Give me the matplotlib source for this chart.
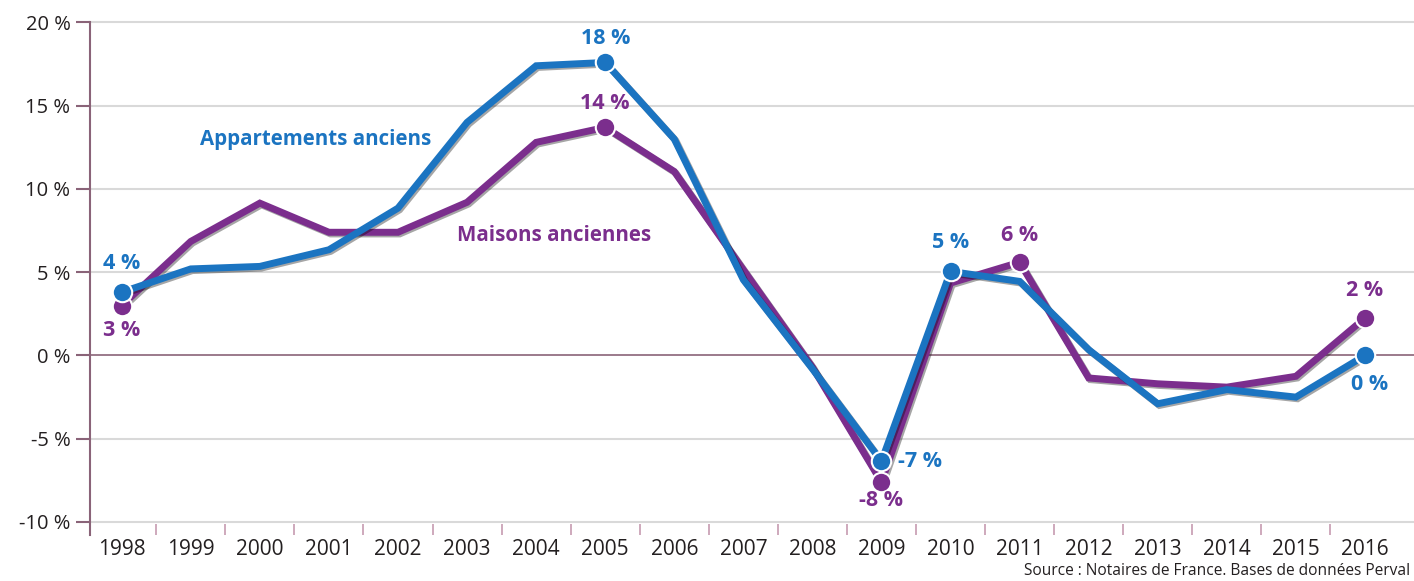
import matplotlib
matplotlib.use("Agg")
import matplotlib.pyplot as plt
from matplotlib import patheffects as pe

# Évolution annuelle des prix des logements anciens (France)
years = list(range(1998, 2017))
appartements = [3.8, 5.2, 5.35, 6.35, 8.85, 14.0, 17.4, 17.6, 13.0, 4.55,
                -0.8, -6.35, 5.05, 4.45, 0.35, -2.9, -2.05, -2.5, 0.0]
maisons = [3.0, 6.85, 9.15, 7.4, 7.4, 9.2, 12.8, 13.7, 11.05, 5.15,
           -0.7, -7.6, 4.35, 5.6, -1.35, -1.7, -1.9, -1.25, 2.25]

yticks = [-10, -5, 0, 5, 10, 15, 20]
ytick_labels = [f"{v} %" for v in yticks]

# étiquettes des points remarquables : année -> (texte, décalage en points)
labels_appart = {1998: ("4 %", (0, 21)), 2005: ("18 %", (0, 17)),
                 2009: ("-7 %", (28, 0)), 2010: ("5 %", (0, 21)),
                 2016: ("0 %", (3, -21))}
labels_maisons = {1998: ("3 %", (0, -18)), 2005: ("14 %", (0, 17)),
                  2009: ("-8 %", (0, -13)), 2011: ("6 %", (0, 19)),
                  2016: ("2 %", (0, 20))}

BLUE = "#1b74c1"
PURPLE = "#7b2e8d"
AXIS = "#8a6378"
GRID = "#d9d9d9"
TXT = "#231f20"

plt.rcParams['font.family'] = ['Open Sans', 'DejaVu Sans']

fig = plt.figure(figsize=(14.14, 5.81), dpi=100)
ax = fig.add_axes([0.0636, 0.0792, 0.9364, 0.8821])

# ---- grille ----
for v in yticks:
    if v == 0:
        ax.axhline(v, color=AXIS, lw=1.2, zorder=1)
    else:
        ax.axhline(v, color=GRID, lw=1.5, zorder=0, clip_on=False)

shadow = [pe.SimpleLineShadow(offset=(1.2, -1.2), shadow_color="black", alpha=0.35),
          pe.Normal()]

ax.plot(years, maisons, color=PURPLE, lw=5, solid_joinstyle="miter",
        path_effects=shadow, zorder=3)
ax.plot(years, appartements, color=BLUE, lw=5, solid_joinstyle="miter",
        path_effects=shadow, zorder=4)


def mark(series, labels, color, z):
    xs = [y for y in labels]
    ys = [series[years.index(y)] for y in labels]
    ax.plot(xs, ys, "o", color=color, ms=14, mec="white", mew=1.5, zorder=z)
    for y, (txt, off) in labels.items():
        ax.annotate(txt, (y, series[years.index(y)]), xytext=off,
                    textcoords="offset points", ha="center", va="center",
                    color=color, fontsize=15.5, fontweight="bold", zorder=6)


mark(maisons, labels_maisons, PURPLE, 5)
mark(appartements, labels_appart, BLUE, 5)

ax.text(1999.13, 13.0, "Appartements anciens", color=BLUE, fontsize=14.8,
        fontweight="bold", ha="left", va="center")
ax.text(2002.85, 7.18, "Maisons anciennes", color=PURPLE, fontsize=14.8,
        fontweight="bold", ha="left", va="center")

# ---- axes ----
ax.set_xlim(1997.54, 2016.71)
ax.set_ylim(-10.78, 20)
ax.set_yticks(yticks)
ax.set_yticklabels(ytick_labels)
ax.set_xticks(years)
ax.set_xticklabels([str(y) for y in years])
ax.set_xticks([y + 0.5 for y in years[:-1]], minor=True)

ax.tick_params(axis="y", length=10, width=1.5, color=AXIS, pad=4,
               labelsize=14.5, labelcolor=TXT)
ax.tick_params(axis="x", which="major", length=0, pad=3,
               labelsize=15, labelcolor=TXT)
ax.tick_params(axis="x", which="minor", direction="in", length=8,
               width=1.2, color="#c69bb0")

for s in ["top", "right", "bottom"]:
    ax.spines[s].set_visible(False)
ax.spines["left"].set_color(AXIS)
ax.spines["left"].set_linewidth(1.5)

fig.text(0.997, 0.017, "Source : Notaires de France. Bases de données Perval",
         ha="right", va="center", fontsize=11.2, color=TXT)

fig.savefig("out.png", dpi=100)
